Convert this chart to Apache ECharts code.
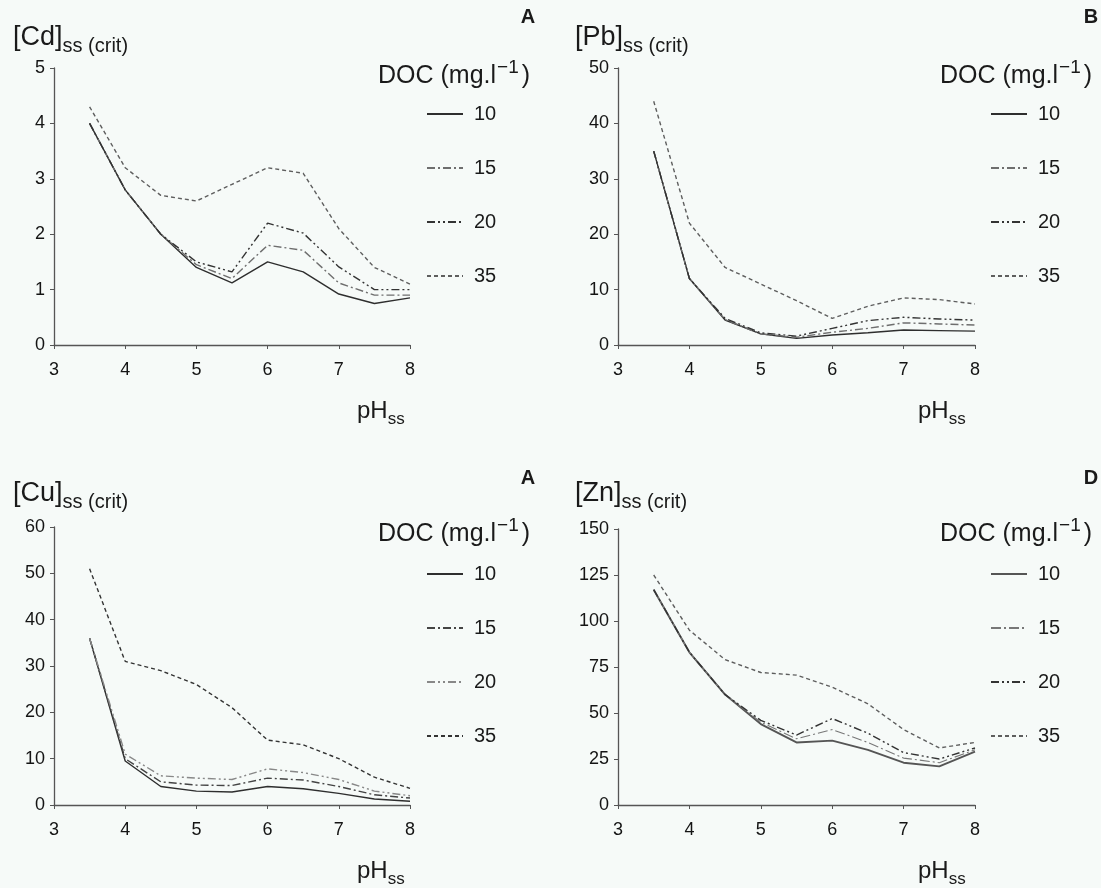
<!DOCTYPE html>
<html><head><meta charset="utf-8">
<script src="https://cdn.jsdelivr.net/npm/echarts@6/dist/echarts.min.js"></script>
<style>html,body{margin:0;padding:0;background:#f6faf8;}#c{width:1101px;height:888px;}</style>
</head><body><div id="c"></div>
<script>
// ---- data ----
const ph = [3.5, 4, 4.5, 5, 5.5, 6, 6.5, 7, 7.5, 8];
const docLevels = ['10', '15', '20', '35'];
const xTicks = [3, 4, 5, 6, 7, 8];
const cdTicks = [0, 1, 2, 3, 4, 5];
const pbTicks = [0, 10, 20, 30, 40, 50];
const cuTicks = [0, 10, 20, 30, 40, 50, 60];
const znTicks = [0, 25, 50, 75, 100, 125, 150];

const cd10 = [4.0, 2.8, 2.0, 1.4, 1.12, 1.5, 1.32, 0.92, 0.75, 0.85];
const cd15 = [4.0, 2.8, 2.0, 1.45, 1.2, 1.8, 1.71, 1.12, 0.9, 0.9];
const cd20 = [4.0, 2.8, 2.0, 1.5, 1.32, 2.2, 2.02, 1.41, 1.0, 1.0];
const cd35 = [4.3, 3.2, 2.7, 2.6, 2.9, 3.2, 3.1, 2.1, 1.4, 1.1];

const pb10 = [35, 12, 4.5, 2.0, 1.2, 1.8, 2.2, 2.7, 2.6, 2.5];
const pb15 = [35, 12, 4.6, 2.0, 1.4, 2.3, 3.0, 4.0, 3.8, 3.6];
const pb20 = [35, 12, 4.8, 2.2, 1.6, 3.0, 4.4, 5.0, 4.7, 4.5];
const pb35 = [44, 22, 14, 11, 8, 4.8, 7, 8.5, 8.2, 7.4];

const cu10 = [36, 9.5, 4, 3, 2.8, 4, 3.5, 2.5, 1.3, 0.8];
const cu15 = [36, 10, 5, 4.3, 4.2, 5.8, 5.4, 4, 2.2, 1.5];
const cu20 = [36, 11, 6.3, 5.8, 5.5, 7.8, 7, 5.5, 3, 2];
const cu35 = [51, 31, 29, 26, 21, 14, 13, 10, 6, 3.6];

const zn10 = [117, 83, 60, 44, 34, 35, 30, 23, 21, 29];
const zn15 = [117, 83, 60, 45, 36, 41, 34, 25.5, 23, 30];
const zn20 = [117, 83, 60, 46, 38, 47, 39, 28.5, 25, 31];
const zn35 = [125, 95, 79, 72, 70.6, 64, 55, 41, 31, 34];

// ---- styles / layout ----
const FONT = '"Liberation Sans", Arial, Helvetica, sans-serif';
const DASH_DOT = [8, 3, 2, 3];
const DASH_DOT_DOT = [8, 3, 2, 3, 2, 3];
const SHORT_DASH = [4, 3];
const stylesAB = [
  {type: 'solid', color: '#2e2e2e', width: 1.4},
  {type: DASH_DOT, color: '#6e6e6e', width: 1.4},
  {type: DASH_DOT_DOT, color: '#333', width: 1.4},
  {type: SHORT_DASH, color: '#5e5e5e', width: 1.4}
];
const stylesC = [
  {type: 'solid', color: '#2e2e2e', width: 1.4},
  {type: DASH_DOT, color: '#444', width: 1.4},
  {type: DASH_DOT_DOT, color: '#888', width: 1.4},
  {type: SHORT_DASH, color: '#333', width: 1.4}
];
const stylesD = [
  {type: 'solid', color: '#555', width: 1.9},
  {type: [10, 3, 2, 3], color: '#777', width: 1.1},
  {type: DASH_DOT_DOT, color: '#333', width: 1.4},
  {type: SHORT_DASH, color: '#5e5e5e', width: 1.4}
];

const panels = [
  {metal: 'Cd', letter: 'A', grid: {left: 54, top: 68, width: 356, height: 277}, ticks: cdTicks,
   data: [cd10, cd15, cd20, cd35], styles: stylesAB, legendLeft: 426, legendTop: 104,
   labelX: 13, labelY: 38, docX: 378, docY: 76, letterX: 528, letterY: 17, phX: 357, phY: 411},
  {metal: 'Pb', letter: 'B', grid: {left: 618, top: 68, width: 357, height: 277}, ticks: pbTicks,
   data: [pb10, pb15, pb20, pb35], styles: stylesAB, legendLeft: 990, legendTop: 104,
   labelX: 575, labelY: 38, docX: 940, docY: 76, letterX: 1091, letterY: 17, phX: 918, phY: 411},
  {metal: 'Cu', letter: 'A', grid: {left: 54, top: 527, width: 356, height: 278}, ticks: cuTicks,
   data: [cu10, cu15, cu20, cu35], styles: stylesC, legendLeft: 426, legendTop: 564,
   labelX: 13, labelY: 494, docX: 378, docY: 534, letterX: 528, letterY: 478, phX: 357, phY: 871},
  {metal: 'Zn', letter: 'D', grid: {left: 618, top: 529, width: 357, height: 276}, ticks: znTicks,
   data: [zn10, zn15, zn20, zn35], styles: stylesD, legendLeft: 990, legendTop: 564,
   labelX: 575, labelY: 494, docX: 940, docY: 534, letterX: 1091, letterY: 478, phX: 918, phY: 871}
];

const ctx = document.createElement('canvas').getContext('2d');
function textW(t, size) { ctx.font = size + 'px ' + FONT; return ctx.measureText(t).width; }
function txt(x, y, t, size, extra) {
  return Object.assign({type: 'text', x: x, y: y, silent: true,
    style: Object.assign({text: t, font: size + 'px ' + FONT, fill: '#1a1a1a',
      textAlign: 'left', textVerticalAlign: 'middle'}, extra || {})});
}

const grids = [], xAxes = [], yAxes = [], series = [], legends = [], graphics = [];
panels.forEach((p, i) => {
  grids.push(Object.assign({containLabel: false}, p.grid));
  const axisCommon = {
    axisLine: {show: true, lineStyle: {color: '#555', width: 1.3}},
    axisTick: {show: true, inside: false, length: 4, lineStyle: {color: '#555', width: 1}},
    splitLine: {show: false},
    axisLabel: {color: '#141414', fontSize: 18, fontFamily: FONT}
  };
  xAxes.push(Object.assign({}, axisCommon, {gridIndex: i, type: 'value', min: xTicks[0],
    max: xTicks[xTicks.length - 1], interval: xTicks[1] - xTicks[0],
    axisLabel: Object.assign({}, axisCommon.axisLabel, {margin: 16})}));
  yAxes.push(Object.assign({}, axisCommon, {gridIndex: i, type: 'value', min: p.ticks[0],
    max: p.ticks[p.ticks.length - 1], interval: p.ticks[1] - p.ticks[0],
    axisLabel: Object.assign({}, axisCommon.axisLabel, {margin: 9})}));
  const names = [];
  docLevels.forEach((lvl, k) => {
    const name = p.metal + '_' + lvl;
    names.push(name);
    series.push({
      type: 'line', name: name, xAxisIndex: i, yAxisIndex: i,
      data: ph.map((x, j) => [x, p.data[k][j]]),
      symbol: 'none', showSymbol: false, smooth: false, silent: true, animation: false,
      color: p.styles[k].color,
      itemStyle: {color: p.styles[k].color},
      lineStyle: p.styles[k]
    });
  });
  legends.push({
    data: names, orient: 'vertical', left: p.legendLeft, top: p.legendTop, padding: 0,
    itemWidth: 36, itemHeight: 14, itemGap: 34, selectedMode: false,
    itemStyle: {color: 'rgba(0,0,0,0)', borderWidth: 0, opacity: 0},
    formatter: n => n.split('_')[1],
    textStyle: {fontSize: 20, fontFamily: FONT, color: '#1a1a1a', lineHeight: 20, padding: [0, 0, 0, 6]}
  });
  // y label
  const mainT = '[' + p.metal + ']';
  graphics.push(txt(p.labelX, p.labelY, mainT, 27));
  graphics.push(txt(p.labelX + textW(mainT, 27), p.labelY + 8, 'ss (crit)', 20));
  // DOC title
  const d1 = 'DOC (mg.l';
  const w1 = textW(d1, 25);
  const sup = '\u22121';
  const ws = textW(sup, 19);
  graphics.push(txt(p.docX, p.docY, d1, 25));
  graphics.push(txt(p.docX + w1 + 1, p.docY - 8, sup, 19));
  graphics.push(txt(p.docX + w1 + ws + 4, p.docY, ')', 25));
  // letter
  graphics.push(txt(p.letterX, p.letterY, p.letter, 20, {textAlign: 'center', font: 'bold 20px ' + FONT}));
  // pH label
  graphics.push(txt(p.phX, p.phY, 'pH', 24));
  graphics.push(txt(p.phX + textW('pH', 24), p.phY + 8, 'ss', 17));
});

const chart = echarts.init(document.getElementById('c'), null, {renderer: 'canvas'});
chart.setOption({
  backgroundColor: '#f6faf8',
  animation: false,
  grid: grids, xAxis: xAxes, yAxis: yAxes, series: series, legend: legends,
  graphic: {elements: graphics}
});
</script></body></html>
